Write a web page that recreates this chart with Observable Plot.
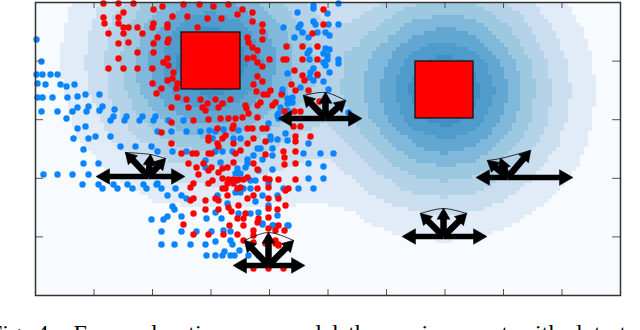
<!DOCTYPE html>
<html><head><meta charset="utf-8">
<script src="https://cdn.jsdelivr.net/npm/d3@7"></script>
<script src="https://cdn.jsdelivr.net/npm/@observablehq/plot@0.6"></script>
<style>
html,body{margin:0;padding:0;background:#fff;overflow:hidden;width:640px;height:330px}
#cap{position:absolute;left:-11px;top:321px;white-space:pre;word-spacing:3.5px;font:24px/24px "Liberation Serif",serif;color:#000}
</style></head><body>
<div id="chart"></div>
<div id="cap">Fig. 4.  For exploration, we model the environment with dots to</div>
<script>
// arena size and ticks
const arenaW = 585, arenaH = 293;
const xTicks = [58.5,117,175.5,234,292.5,351,409.5,468,526.5];
const yTicks = [58.6,117.2,175.8,234.4];
// heat read over the arena, rows top to bottom, 21 samples per row
const heatRows = [
[.15,.8,1.75,3,4.5,5.8,6.4,5.8,4.5,3.2,2.3,2.45,3.1,3.9,4.2,3.9,3,2.05,1.15,.45,.05],
[.25,1.05,2.2,3.9,5.8,7.7,8.5,7.7,5.9,4.3,3.1,3.5,4.6,5.8,6.4,5.8,4.5,3,1.75,.8,.15],
[.3,1.15,2.4,4.2,6.4,8.5,9,8.5,6.5,4.7,3.5,4.5,5.95,7.7,8.5,7.7,5.8,3.9,2.2,1.05,.25],
[.25,1.05,2.2,3.9,5.8,7.7,8.5,7.7,5.95,4.5,3.5,4.7,6.5,8.5,9,8.5,6.4,4.2,2.4,1.15,.3],
[.15,.8,1.75,3,4.5,5.8,6.4,5.8,4.6,3.5,3.1,4.3,5.9,7.7,8.5,7.7,5.8,3.9,2.2,1.05,.25],
[.05,.45,1.15,2.05,3,3.9,4.2,3.9,3.1,2.45,2.3,3.2,4.5,5.8,6.4,5.8,4.5,3,1.75,.8,.15],
[0,.1,.55,1.15,1.75,2.2,2.4,2.2,1.75,1.4,1.4,2.1,3,3.9,4.2,3.9,3,2.05,1.15,.45,.05],
[0,0,.1,.45,.8,.9,.9,.9,.9,.95,.95,1.15,1.75,2.2,2.4,2.2,1.75,1.15,.55,.1,0],
[0,0,0,.05,.15,.25,.3,.25,.15,.05,.1,.45,.8,1.05,1.15,1.05,.8,.45,.1,0,0],
[0,0,0,0,0,0,0,0,0,0,0,.05,.15,.25,.3,.25,.15,.05,0,0,0],
[0,0,0,0,0,0,0,0,0,0,0,0,0,0,0,0,0,0,0,0,0]
];
const heatBreaks = [1,2,3,4,5,6,7,8];
const heatColors = ["#f7fbff","#e1ecf8","#cbdef0","#b4d3e9","#9cc9e0","#7fb8da","#62a6d2","#4f9bcb","#4090c5"];
// obstacles: left, bottom, right, top
const boxX1=[146,380], boxX2=[205,438], boxY1=[206,177], boxY2=[263,234];
const blue = [[1,256],[6,234],[1,221],[7,221],[15,221],[22,221],[2,212],[10,211],[25,211],[31,209],[39,211],[50,201],[64,201],[2,198],[7,198],[17,198],[32,198],[42,199],[6,184],[22,184],[37,184],[42,188],[53,189],[51,184],[67,189],[64,185],[79,186],[78,179],[75,175],[91,179],[89,175],[107,179],[104,175],[120,179],[118,175],[133,175],[148,175],[31,177],[42,167],[50,169],[38,157],[53,157],[60,159],[75,159],[48,146],[85,149],[100,149],[116,149],[122,144],[137,144],[151,144],[48,132],[63,132],[122,164],[136,164],[151,164],[165,164],[174,165],[180,164],
[188,166],[203,165],[177,157],[198,157],[205,157],[235,159],[233,172],[243,182],[245,188],[255,193],[252,185],[250,162],[242,156],[235,156],[252,155],[180,144],[187,144],[197,144],[222,147],[225,147],[237,147],[237,140],[218,140],[268,142],[273,152],[170,135],[185,133],[212,136],[212,132],[227,136],[273,132],[170,128],[202,127],[237,126],[223,125],[210,128],[205,122],[200,122],[273,117],[202,115],[215,115],[220,115],[248,107],[278,107],[122,112],[126,107],[140,107],
[8,121],[22,121],[37,121],[53,121],[47,111],[63,111],[67,107],[78,111],[82,107],[92,111],[97,107],[108,111],[111,107],[121,111],[132,100],[146,100],[151,97],[137,89],[139,86],[146,79],[116,76],[128,76],[132,79],[126,64],[146,64],[161,64],[176,64],[126,51],[139,51],[155,51],[170,51],[180,54],[171,40],[180,40],[187,40],[189,44],[195,40],[199,40],[204,45],[197,51],[195,55],[263,107],[213,40],[223,40],[253,70],[238,70],[227,71],
[182,100],[192,92],[200,103],[208,107],[215,107],[205,103],[220,94],[227,100],[233,112],[242,100],[180,83],[203,82],[215,82],[223,83],[233,90],[242,80],[227,72],[237,70],[252,70],[171,77],[186,77],[188,65],[195,64],
[278,290],[278,287],[303,292],[262,283],[292,282],[248,268],[265,271],[263,268],[278,274],[280,271],[293,271],[303,271],[267,263],[259,258],[273,258],[282,263],[290,263],[294,260],[274,245],[272,242],[290,247],[294,246],[288,242],[292,240],[292,236],[274,236],[288,233],[303,236],[303,232],[290,230],[278,227],[275,223],[294,223],[274,218],[282,220],[278,215],[288,214],[252,222],[265,208],[247,206],[293,206],[247,202],[252,197],[257,198],[257,193],[252,192],[242,180],[243,177],[313,183],[285,142],[298,142],[288,129],[288,117]];
const red = [[68,292],[83,292],[98,292],[148,291],[164,291],[193,291],[127,289],[118,286],[178,289],[207,286],[202,281],[217,283],[88,283],[68,278],[83,278],[137,279],[152,279],[172,277],[186,277],[217,274],[69,272],[83,272],[88,268],[93,268],[102,268],[118,272],[117,268],[132,271],[132,268],[162,268],[227,271],[227,264],[73,262],[88,262],[107,262],[122,258],[133,256],[132,253],[212,258],[227,256],[213,253],[83,252],[93,253],[118,252],[102,243],[118,243],[217,248],[222,245],[218,238],[83,237],[132,237],[128,233],[212,237],[222,233],[234,236],[248,236],[251,236],[267,236],[227,229],[73,227],[88,227],[102,227],[117,227],[133,230],[138,223],[222,219],[137,217],[142,212],[132,215],[117,212],[126,207],[121,202],[141,207],[227,214],[218,211],[142,198],[151,196],[165,196],[180,196],[195,196],[221,204],[228,201],[232,201],[240,193],[222,190],[225,193],[210,190],[211,187],[153,188],[136,188],[167,188],[172,192],[170,185],[183,188],[187,192],[260,205],[273,205],[259,225],[267,220],[277,262],[251,249],[267,249],[249,184],[259,184],[265,184],[158,175],[136,173],[173,176],[185,177],[193,177],[200,177],[207,178],[213,182],[222,178],
[126,163],[182,167],[198,170],[197,167],[212,167],[217,167],[227,167],[231,167],[258,169],[265,169],[173,158],[173,155],[187,157],[190,160],[218,157],[230,154],[260,159],[260,154],[275,159],[136,152],[182,152],[183,149],[198,152],[212,152],[248,144],[146,142],[157,142],[161,142],[173,142],[176,142],[205,145],[200,142],[230,141],[260,144],[153,132],[161,128],[168,132],[176,128],[173,125],[187,127],[192,128],[198,133],[218,132],[222,126],[249,138],[249,131],[260,132],[163,121],[183,123],[187,117],[212,118],[208,116],[193,116],[198,116],[203,116],[230,117],[234,116],[243,116],[260,116],[158,112],[155,108],[177,115],[173,112],[192,112],[198,112],[205,108],[222,107],[233,108],
[187,107],[190,107],[202,107],[250,105],[253,107],[180,97],[183,95],[192,100],[212,97],[218,100],[233,97],[243,97],[155,95],[158,97],[170,95],[250,90],[193,88],[203,90],[196,84],[170,86],[183,86],[233,87],[242,86],[158,82],[210,82],[233,78],[202,77],[208,77],[223,77],[222,73],[148,71],[208,70],[194,70],[218,65],[243,70],[233,67],[240,65],[249,65],[158,61],[173,61],[188,61],[202,61],[218,60],[208,55],[240,55],[243,50],[230,52],[218,53],[240,52],[243,51],[218,27],[233,27],[248,27],
[288,286],[288,271],[282,249],[282,236],[282,221],[269,215],[256,211],[235,205],[246,201],[237,190],[284,194]];
// robots: action arrows as start and end points
const arrowFromX = [113,113,113,113,113, 290,290,290,290,290, 233,233,233,233,233, 408,408,408,408,408, 472,472,472,472,472];
const arrowFromY = [119,119,119,119,119, 177,177,177,177,177, 30,30,30,30,30, 59,59,59,59,59, 118,118,118,118,118];
const arrowToX   = [61,149,90,115,130, 243,326,268,290,310, 198,269,209,233,258, 367,451,385,408,431, 441,537,495,465,452];
const arrowToY   = [119,119,143,141,137, 177,177,200,203,195, 30,30,55,63,55, 59,59,82,87,82, 118,118,145,137,135];
// thin arcs over the robots
const arcRobot = ["a","a","a","b","b","b","c","c","c","d","d","d","e","e","e"];
const arcX = [90,115,130, 268,290,310, 209,233,258, 385,408,431, 452,465,495];
const arcY = [143,141,137, 200,203,195, 55,63,55, 82,87,82, 135,137,145];

const arrows = arrowFromX.map((x,i)=>{
  const dx=arrowToX[i]-x, dy=arrowToY[i]-arrowFromY[i], n=Math.hypot(dx,dy);
  const h=i%5<2?8.5:7;
  return {x1:x,y1:arrowFromY[i],x2:arrowToX[i],y2:arrowToY[i],
    hx:arrowToX[i]-h*dx/n,hy:arrowToY[i]-h*dy/n,
    rot:Math.atan2(dx,dy)*180/Math.PI,r:i%5<2?5.8:4.8,w:i%5<2?5.5:6.5};
});
const heat = heatRows.flatMap((row,j)=>row.map((v,i)=>({x:i*arenaW/20,y:arenaH-j*arenaH/10,v})));

const plot = Plot.plot({
  width:640,height:320,
  marginLeft:35,marginRight:20,marginTop:2,marginBottom:25,
  x:{domain:[0,arenaW],axis:null},
  y:{domain:[0,arenaH],axis:null},
  r:{type:"identity"},
  color:{type:"threshold",domain:heatBreaks,range:heatColors},
  style:{background:"transparent"},
  marks:[
    Plot.raster(heat,{x:"x",y:"y",fill:"v",interpolate:"barycentric",pixelSize:4,imageRendering:"pixelated"}),
    Plot.dot(blue,{x:d=>d[0],y:d=>d[1],r:3.2,fill:"#0a84ff",stroke:"none"}),
    Plot.dot(red,{x:d=>d[0],y:d=>d[1],r:3.2,fill:"#ff0000",stroke:"none"}),
    Plot.rect(boxX1,{x1:boxX1,x2:boxX2,y1:boxY1,y2:boxY2,fill:"#ff0000",stroke:"#111",strokeWidth:1.3}),
    Plot.line(arcX.map((x,i)=>({x,y:arcY[i],z:arcRobot[i]})),{x:"x",y:"y",z:"z",stroke:"#000",strokeWidth:0.8,curve:"catmull-rom"}),
    Plot.link(arrows,{x1:"x1",y1:"y1",x2:"hx",y2:"hy",stroke:"#000",strokeWidth:"w"}),
    Plot.dot(arrows,{x:"hx",y:"hy",r:"r",symbol:"triangle",rotate:"rot",fill:"#000",stroke:"#000",strokeWidth:0.5}),
    Plot.ruleX(xTicks,{y1:0,y2:6,stroke:"#555",strokeWidth:1}),
    Plot.ruleX(xTicks,{y1:arenaH-6,y2:arenaH,stroke:"#555",strokeWidth:1}),
    Plot.ruleY(yTicks,{x1:0,x2:8,stroke:"#555",strokeWidth:1}),
    Plot.ruleY(yTicks,{x1:arenaW-8,x2:arenaW,stroke:"#555",strokeWidth:1}),
    Plot.frame({stroke:"#333",strokeWidth:1.5})
  ]
});
document.getElementById("chart").append(plot);
</script>
</body></html>
